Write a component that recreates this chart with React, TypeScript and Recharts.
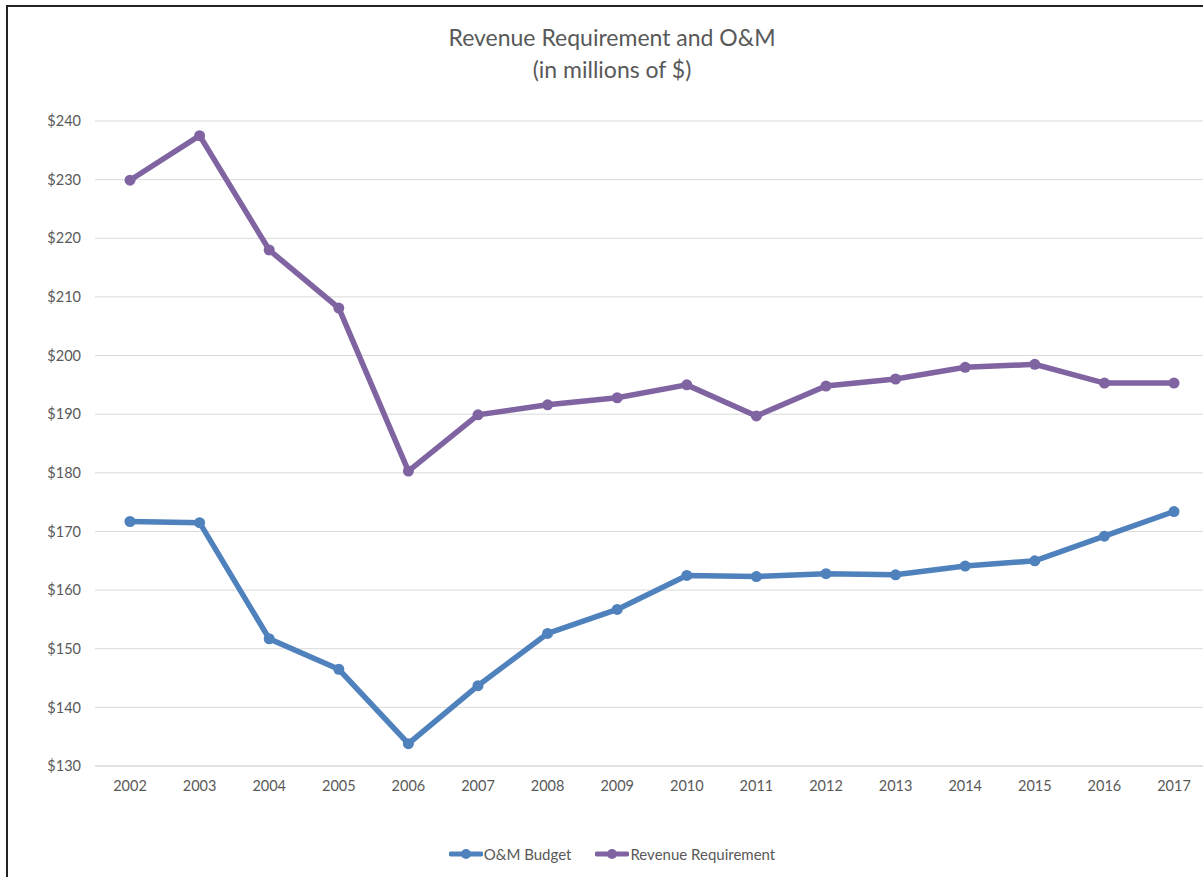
import React from 'react';
import {
  LineChart,
  Line,
  XAxis,
  YAxis,
  CartesianGrid,
  Legend
} from 'recharts';

const years = [
  '2002', '2003', '2004', '2005', '2006', '2007', '2008', '2009',
  '2010', '2011', '2012', '2013', '2014', '2015', '2016', '2017'
];
const omBudget = [
  171.7, 171.5, 151.7, 146.5, 133.8, 143.7, 152.6, 156.7,
  162.5, 162.3, 162.8, 162.6, 164.1, 165.0, 169.2, 173.4
];
const revenueRequirement = [
  229.9, 237.5, 218.0, 208.1, 180.3, 189.9, 191.6, 192.8,
  195.0, 189.7, 194.8, 196.0, 198.0, 198.5, 195.3, 195.3
];
const yTicks = [130, 140, 150, 160, 170, 180, 190, 200, 210, 220, 230, 240];

const data = years.map((year, i) => ({
  year,
  om: omBudget[i],
  rev: revenueRequirement[i]
}));

const BLUE = '#4F81BD';
const PURPLE = '#8064A2';
const TEXT = '#595959';
const FONT = 'Lato, "Open Sans", sans-serif';

const series = [
  { name: 'O&M Budget', color: BLUE },
  { name: 'Revenue Requirement', color: PURPLE }
];

// legend drawn like Excel's: thick line with a dot in the middle
const LegendContent = () => (
  <div style={{ display: 'flex', justifyContent: 'center', gap: 24, fontFamily: FONT, fontSize: 15, color: TEXT }}>
    {series.map((s) => (
      <div key={s.name} style={{ display: 'flex', alignItems: 'center' }}>
        <svg width={34} height={12} style={{ marginRight: 1 }}>
          <line x1={2} y1={6} x2={32} y2={6} stroke={s.color} strokeWidth={5} strokeLinecap="round" />
          <circle cx={17} cy={6} r={5} fill={s.color} />
        </svg>
        <span>{s.name}</span>
      </div>
    ))}
  </div>
);

const App = () => {
  return (
    <div
      style={{
        position: 'absolute',
        left: 6,
        top: 5,
        width: 1240,
        height: 900,
        border: '2px solid #222',
        background: '#fff',
        boxShadow: '1px 1px 2px rgba(0,0,0,0.3)'
      }}
    >
      <div
        style={{
          position: 'absolute',
          left: 2,
          top: 14,
          width: 1204,
          textAlign: 'center',
          fontFamily: FONT,
          fontSize: 23,
          lineHeight: '32px',
          color: TEXT
        }}
      >
        <div>Revenue Requirement and O&amp;M</div>
        <div>(in millions of $)</div>
      </div>
      <LineChart
        width={1230}
        height={882}
        data={data}
        margin={{ top: 114, right: 29, bottom: 60, left: 27 }}
      >
        <CartesianGrid vertical={false} stroke="#d9d9d9" strokeWidth={1} />
        <XAxis
          dataKey="year"
          axisLine={{ stroke: '#d9d9d9' }}
          tickLine={false}
          tickSize={0}
          tickMargin={15}
          height={63}
          padding={{ left: 35, right: 35 }}
          tick={{ fill: TEXT, fontSize: 14.5, fontFamily: FONT }}
          interval={0}
        />
        <YAxis
          domain={[130, 240]}
          ticks={yTicks}
          axisLine={false}
          tickLine={false}
          tickSize={0}
          tickMargin={14}
          width={60}
          tickFormatter={(v: number) => `$${v}`}
          tick={{ fill: TEXT, fontSize: 14.5, fontFamily: FONT }}
        />
        <Legend
          verticalAlign="middle"
          align="center"
          layout="horizontal"
          content={<LegendContent />}
          wrapperStyle={{ top: 838, left: 2, width: 1204 }}
        />
        <Line
          type="linear"
          dataKey="om"
          name="O&M Budget"
          stroke={BLUE}
          strokeWidth={5.5}
          dot={{ r: 5.5, fill: BLUE, stroke: BLUE, strokeWidth: 0 }}
          activeDot={false}
          isAnimationActive={false}
        />
        <Line
          type="linear"
          dataKey="rev"
          name="Revenue Requirement"
          stroke={PURPLE}
          strokeWidth={5.5}
          dot={{ r: 5.5, fill: PURPLE, stroke: PURPLE, strokeWidth: 0 }}
          activeDot={false}
          isAnimationActive={false}
        />
      </LineChart>
    </div>
  );
};

export default App;
